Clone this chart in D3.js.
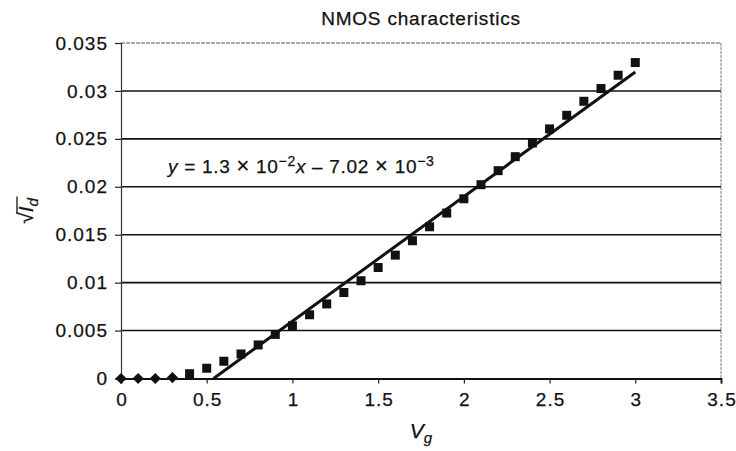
<!DOCTYPE html>
<html>
<head>
<meta charset="utf-8">
<script src="https://cdn.jsdelivr.net/npm/d3@7"></script>
<style>
  html, body { margin: 0; padding: 0; background: #fff; }
  svg { display: block; font-family: "Liberation Sans", Arial, Helvetica, sans-serif; }
  svg text { stroke: #111; stroke-width: 0.25px; }
</style>
</head>
<body>
<svg id="chart" width="736" height="451"></svg>
<script>
// ---- data ----
const title = "NMOS characteristics";
const xTicks = [0, 0.5, 1, 1.5, 2, 2.5, 3, 3.5];
const yTicks = [0, 0.005, 0.01, 0.015, 0.02, 0.025, 0.03, 0.035];
const vgLow = [0, 0.1, 0.2, 0.3];
const sqrtIdLow = [0, 0, 0, 0.0001];
const vgHigh = [0.4, 0.5, 0.6, 0.7, 0.8, 0.9, 1.0, 1.1, 1.2, 1.3, 1.4, 1.5, 1.6, 1.7, 1.8, 1.9, 2.0, 2.1, 2.2, 2.3, 2.4, 2.5, 2.6, 2.7, 2.8, 2.9, 3.0];
const sqrtIdHigh = [0.0005, 0.00107, 0.0018, 0.00256, 0.0035, 0.0046, 0.0055, 0.00665, 0.00778, 0.00897, 0.0102, 0.01158, 0.01287, 0.01437, 0.01583, 0.01726, 0.01875, 0.02022, 0.02168, 0.02314, 0.02457, 0.02604, 0.02746, 0.02892, 0.03025, 0.03164, 0.03296];
const fitSlope = 1.3e-2;
const fitIntercept = -7.02e-3;
const fitRange = [0.54, 3.0];

// ---- layout ----
const svg = d3.select("#chart");
const mLeft = 121, mRight = 721, mTop = 43, mBottom = 378.5;
const x = d3.scaleLinear().domain([0, 3.5]).range([mLeft, mRight]);
const y = d3.scaleLinear().domain([0, 0.035]).range([mBottom, mTop]);

// frame (right & top dotted gray)
svg.append("line").attr("x1", mRight).attr("x2", mRight).attr("y1", mTop).attr("y2", mBottom)
  .attr("stroke", "#777").attr("stroke-width", 1).attr("stroke-dasharray", "3,1");
svg.append("line").attr("x1", mLeft).attr("x2", mRight).attr("y1", mTop).attr("y2", mTop)
  .attr("stroke", "#555").attr("stroke-width", 1.2).attr("stroke-dasharray", "4,1");

// gridlines
svg.append("g").selectAll("line").data(yTicks.filter(d => d > 0 && d < 0.035)).join("line")
  .attr("x1", mLeft).attr("x2", mRight)
  .attr("y1", d => y(d)).attr("y2", d => y(d))
  .attr("stroke", "#111").attr("stroke-width", 1.6);

// y axis
const yAxis = d3.axisLeft(y).tickValues(yTicks).tickSize(6).tickPadding(7)
  .tickFormat(d => d === 0 ? "0" : String(+d.toFixed(3)));
const gy = svg.append("g").attr("transform", `translate(${mLeft},0)`).call(yAxis);
gy.select(".domain").attr("stroke", "#333").attr("stroke-width", 1.2);
gy.selectAll(".tick line").attr("stroke", "#222").attr("stroke-width", 1.2);
gy.selectAll(".tick text").attr("font-size", 19).attr("letter-spacing", 1).attr("fill", "#111")
  .attr("font-family", "Liberation Sans, Arial, sans-serif");

// x axis
const xAxis = d3.axisBottom(x).tickValues(xTicks).tickSize(5).tickPadding(9)
  .tickFormat(d => String(d));
const gx = svg.append("g").attr("transform", `translate(0,${mBottom})`).call(xAxis);
gx.select(".domain").attr("stroke", "#111").attr("stroke-width", 1.8);
gx.selectAll(".tick line").attr("stroke", "#222").attr("stroke-width", 1.2);
gx.selectAll(".tick text").attr("font-size", 19).attr("letter-spacing", 1).attr("fill", "#111")
  .attr("dx", 0.5)
  .attr("font-family", "Liberation Sans, Arial, sans-serif");

// fit line
const fitData = fitRange.map(v => [v, fitSlope * v + fitIntercept]);
svg.append("path").datum(fitData)
  .attr("d", d3.line().x(d => x(d[0])).y(d => y(d[1])))
  .attr("stroke", "#111").attr("stroke-width", 3).attr("fill", "none");

// diamonds
const lowData = vgLow.map((v, i) => [v, sqrtIdLow[i]]);
svg.append("g").selectAll("path").data(lowData).join("path")
  .attr("d", d3.symbol().type(d3.symbolDiamond2).size(80))
  .attr("transform", d => `translate(${x(d[0])},${y(d[1])})`)
  .attr("fill", "#111");

// squares
const highData = vgHigh.map((v, i) => [v, sqrtIdHigh[i]]);
svg.append("g").selectAll("rect").data(highData).join("rect")
  .attr("x", d => x(d[0]) - 4.5).attr("y", d => y(d[1]) - 4.5)
  .attr("width", 9).attr("height", 9)
  .attr("fill", "#111");

// title
svg.append("text").attr("x", 421).attr("y", 25).attr("text-anchor", "middle")
  .attr("font-size", 19).attr("letter-spacing", 0.8).attr("fill", "#111").text(title);

// equation
const eq = svg.append("text").attr("x", 168).attr("y", 173)
  .attr("font-size", 19).attr("letter-spacing", 0.7).attr("fill", "#111");
eq.append("tspan").attr("font-style", "italic").text("y");
eq.append("tspan").text(" = 1.3 ");
eq.append("tspan").attr("font-size", 22).text("×");
eq.append("tspan").text(" 10");
eq.append("tspan").attr("dy", -7).attr("font-size", 14).text("−2");
eq.append("tspan").attr("dy", 7).attr("font-style", "italic").text("x");
eq.append("tspan").text(" – 7.02 ");
eq.append("tspan").attr("font-size", 22).text("×");
eq.append("tspan").text(" 10");
eq.append("tspan").attr("dy", -7).attr("font-size", 14).text("−3");

// x label
const xl = svg.append("text").attr("x", 421).attr("y", 438).attr("text-anchor", "middle")
  .attr("font-size", 21).attr("font-style", "italic").attr("fill", "#111");
xl.append("tspan").text("V");
xl.append("tspan").attr("dy", 5).attr("font-size", 15).text("g");

// y label (sqrt I_d)
const yl = svg.append("g").attr("transform", "translate(33,211) rotate(-90)");
const ylt = yl.append("text").attr("x", 0).attr("y", 0).attr("text-anchor", "middle")
  .attr("font-size", 21).attr("fill", "#111");
ylt.append("tspan").text("√");
ylt.append("tspan").attr("font-style", "italic").text("I");
ylt.append("tspan").attr("dy", 5).attr("font-size", 15).attr("font-style", "italic").text("d");
const bb = ylt.node().getBBox();
const sq = ylt.node().getSubStringLength(0, 1);
yl.append("line").attr("x1", bb.x + sq - 1).attr("x2", bb.x + bb.width + 1)
  .attr("y1", -16).attr("y2", -16).attr("stroke", "#111").attr("stroke-width", 1.3);
</script>
</body>
</html>
